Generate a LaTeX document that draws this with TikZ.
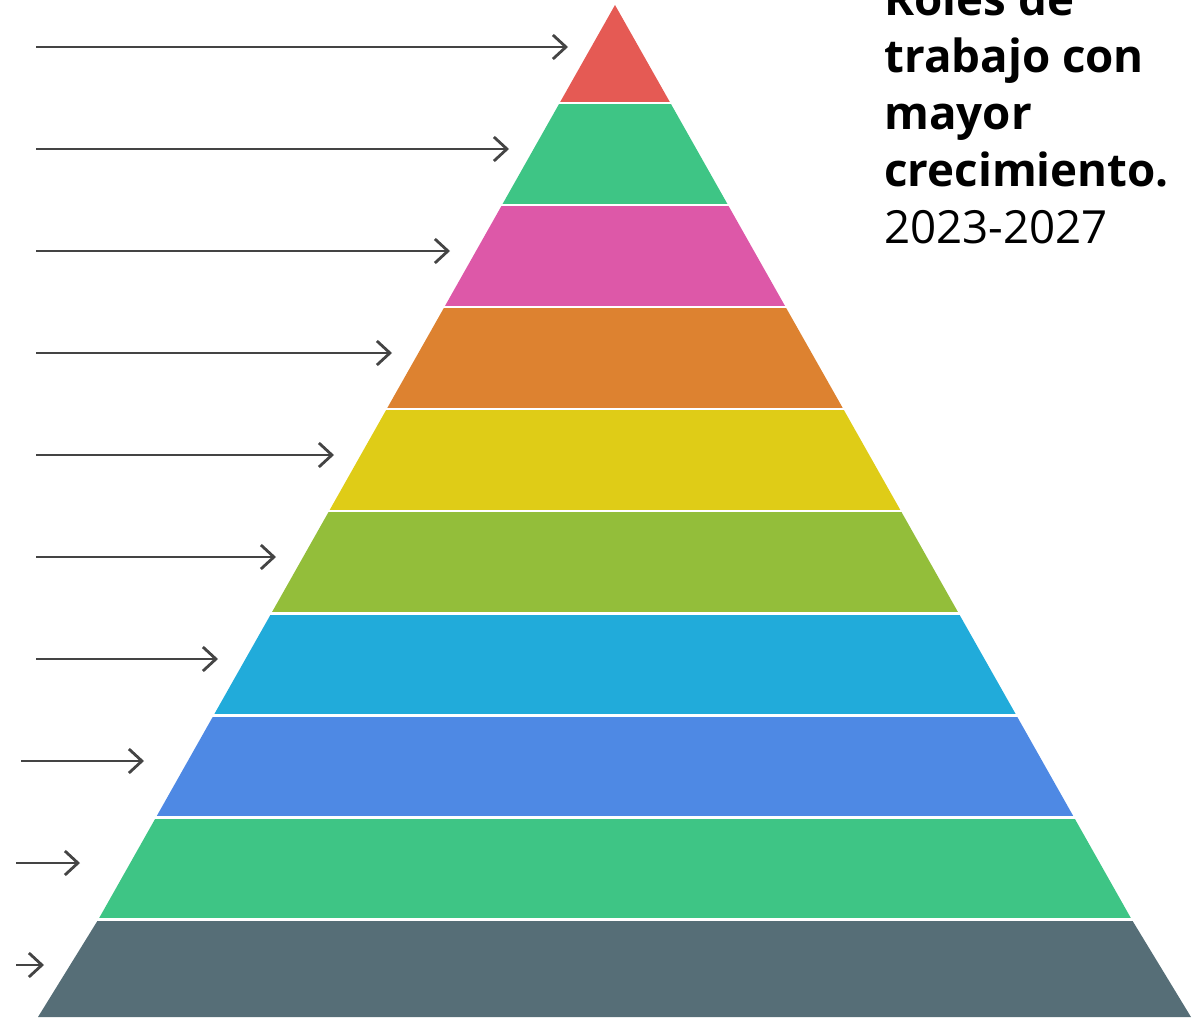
\documentclass[tikz,border=0pt]{standalone}
\usepackage{fontspec}
\setmainfont{Open Sans}
\definecolor{tipred}{RGB}{229, 90, 84}
\definecolor{mintgreen}{RGB}{62, 197, 133}
\definecolor{rosepink}{RGB}{221, 88, 168}
\definecolor{amber}{RGB}{221, 130, 48}
\definecolor{mustard}{RGB}{223, 204, 23}
\definecolor{olive}{RGB}{147, 190, 58}
\definecolor{skyblue}{RGB}{33, 171, 218}
\definecolor{royalblue}{RGB}{78, 137, 228}
\definecolor{slate}{RGB}{86, 110, 119}
\definecolor{arrowgray}{RGB}{68, 68, 68}
\usetikzlibrary{arrows.meta}

\begin{document}
\begin{tikzpicture}[
      x=0.02cm, y=-0.02cm,
      gap/.style={draw=white, line width=1.7pt},
      pointer/.style={
        draw=arrowgray, line width=1.6pt,
        -{Straight Barb[length=2.6mm, width=4.8mm, line width=1.6pt]}
      },
      title/.style={
        align=left, inner sep=0pt,
        font=\fontsize{26}{32.4}\selectfont
      }
    ]
      \clip (0,0) rectangle (1196,1017);

      \fill[tipred]    (615,5) -- (670.4,103) -- (559.6,103) -- cycle;
      \fill[mintgreen] (559.6,103) -- (670.4,103) -- (728.0,205) -- (502.0,205) -- cycle;
      \fill[rosepink]  (502.0,205) -- (728.0,205) -- (785.6,307) -- (444.4,307) -- cycle;
      \fill[amber]     (444.4,307) -- (785.6,307) -- (843.3,409) -- (386.7,409) -- cycle;
      \fill[mustard]   (386.7,409) -- (843.3,409) -- (900.9,511) -- (329.1,511) -- cycle;
      \fill[olive]     (329.1,511) -- (900.9,511) -- (958.5,613) -- (271.5,613) -- cycle;
      \fill[skyblue]   (271.5,613) -- (958.5,613) -- (1016.2,715) -- (213.8,715) -- cycle;
      \fill[royalblue] (213.8,715) -- (1016.2,715) -- (1073.8,817) -- (156.2,817) -- cycle;
      \fill[mintgreen] (156.2,817) -- (1073.8,817) -- (1131.4,919) -- (98.6,919) -- cycle;
      \fill[slate]     (98.6,919) -- (1131.4,919) -- (1191,1017) -- (38,1017) -- cycle;

      \draw[gap] (555,103) -- (675,103);
      \draw[gap] (497,205) -- (733,205);
      \draw[gap] (439,307) -- (791,307);
      \draw[gap] (381,409) -- (849,409);
      \draw[gap] (323,511) -- (907,511);
      \draw[gap] (266,613) -- (964,613);
      \draw[gap] (208,715) -- (1022,715);
      \draw[gap] (150,817) -- (1080,817);
      \draw[gap] (93,919) -- (1137,919);

      \coordinate (s1) at (36,47);   \coordinate (e1) at (568,47);
      \coordinate (s2) at (36,149);  \coordinate (e2) at (509,149);
      \coordinate (s3) at (36,251);  \coordinate (e3) at (450,251);
      \coordinate (s4) at (36,353);  \coordinate (e4) at (392,353);
      \coordinate (s5) at (36,455);  \coordinate (e5) at (334,455);
      \coordinate (s6) at (36,557);  \coordinate (e6) at (276,557);
      \coordinate (s7) at (36,659);  \coordinate (e7) at (218,659);
      \coordinate (s8) at (21,761);  \coordinate (e8) at (144,761);
      \coordinate (s9) at (16,863);  \coordinate (e9) at (80,863);
      \coordinate (s10) at (16,965); \coordinate (e10) at (44,965);

      \draw[pointer] (s1) -- (e1);
      \draw[pointer] (s2) -- (e2);
      \draw[pointer] (s3) -- (e3);
      \draw[pointer] (s4) -- (e4);
      \draw[pointer] (s5) -- (e5);
      \draw[pointer] (s6) -- (e6);
      \draw[pointer] (s7) -- (e7);
      \draw[pointer] (s8) -- (e8);
      \draw[pointer] (s9) -- (e9);
      \draw[pointer] (s10) -- (e10);

      \node[title, anchor=base west] (head) at (884,243)
        {\textbf{Roles de}\\ \textbf{trabajo con}\\ \textbf{mayor}\\ \textbf{crecimiento.}\\ 2023-2027};
    \end{tikzpicture}
\end{document}
